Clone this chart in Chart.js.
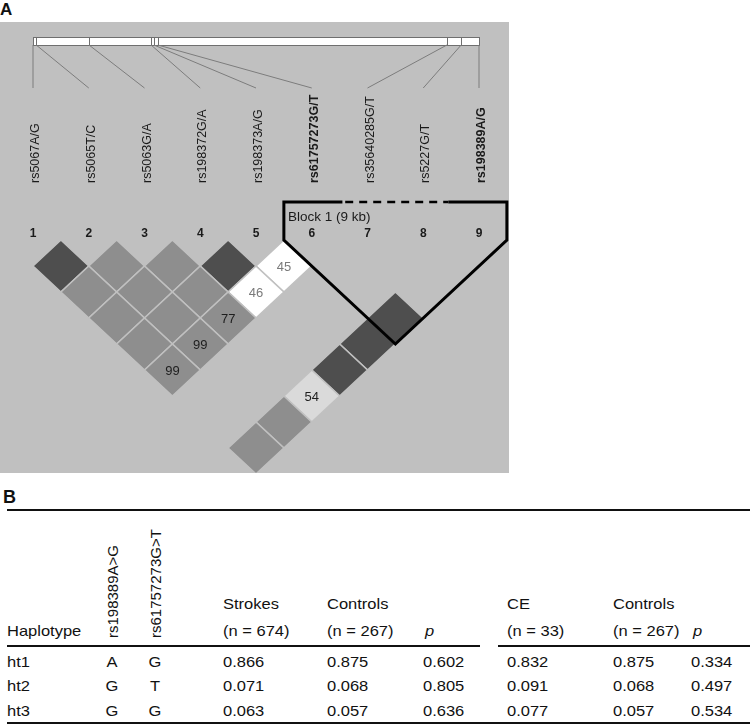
<!DOCTYPE html>
<html>
<head>
<meta charset="utf-8">
<script src="https://cdn.jsdelivr.net/npm/chart.js@4.4.0/dist/chart.umd.min.js"></script>
<style>
  html, body { margin: 0; padding: 0; background: #fff; }
  body { width: 750px; height: 725px; position: relative; overflow: hidden;
         font-family: "Liberation Sans", Arial, Helvetica, sans-serif; color: #111; }
  .tag { position: absolute; font-weight: bold; line-height: 1; }
  #ldWrap { position: absolute; left: 0; top: 22px; width: 509px; height: 451px; background: #c0c0c0; }
  .t { position: absolute; font-size: 15px; line-height: 15px; white-space: nowrap; transform-origin: 0 0; }
  .rule { position: absolute; background: #111; }
</style>
</head>
<body>
<div class="tag" style="left:0;top:1px;font-size:17px;">A</div>
<div id="ldWrap"><canvas id="ldChart" width="509" height="451"></canvas></div>
<div class="tag" style="left:3px;top:488px;font-size:18px;">B</div>
<div id="table"></div>

<script>
// --- Panel A data: markers ---
const snpNames = ['rs5067A/G', 'rs5065T/C', 'rs5063G/A', 'rs198372G/A', 'rs198373A/G',
                  'rs61757273G/T', 'rs35640285G/T', 'rs5227G/T', 'rs198389A/G'];
const snpBold = [false, false, false, false, false, true, false, false, true];
const snpKb = [0, 0.09, 1.57, 3.31, 3.39, 3.50, 11.6, 12.0, 12.5]; // approx. position along the gene

// --- Panel A data: pairwise LD cells (marker a, marker b, D' x100, evidence class) ---
const ldFirst  = [1, 2, 3, 4, 5,   1, 2, 3, 4,   1, 2, 3,   1, 2,   1,   6, 5, 4, 3, 2, 1];
const ldSecond = [2, 3, 4, 5, 6,   3, 4, 5, 6,   4, 5, 6,   5, 6,   6,   9, 9, 9, 9, 9, 9];
const ldDprime = [100, 100, 100, 100, 45,   100, 100, 100, 46,   100, 100, 77,   100, 99,   99,
                  100, 100, 100, 54, 100, 100];
const ldClass  = ['strong', 'uninf', 'uninf', 'strong', 'none',
                  'uninf', 'uninf', 'uninf', 'none',
                  'uninf', 'uninf', 'uninf',
                  'uninf', 'uninf',
                  'uninf',
                  'strong', 'strong', 'strong', 'moderate', 'uninf', 'uninf'];

// --- Panel A data: haplotype block ---
const blockMarkers = [6, 9];
const blockSkipped = [7, 8];
const blockLabel = 'Block 1 (9 kb)';

// --- Panel B data ---
const haplotypes = ['ht1', 'ht2', 'ht3'];
const alleleRs198389 = ['A', 'G', 'G'];
const alleleRs61757273 = ['G', 'T', 'G'];
const strokesFreq = [0.866, 0.071, 0.063];
const strokesCtrlFreq = [0.875, 0.068, 0.057];
const strokesP = [0.602, 0.805, 0.636];
const ceFreq = [0.832, 0.091, 0.077];
const ceCtrlFreq = [0.875, 0.068, 0.057];
const ceP = [0.334, 0.497, 0.534];

// --- styles ---
const classColor = { strong: '#4e4e4e', uninf: '#8e8e8e', none: '#ffffff', moderate: '#dadada' };
const bgGray = '#c0c0c0';
const FONT = '"Liberation Sans", Arial, sans-serif';

// --- LD plot geometry (pixels) ---
const W = 509, H = 451;
const PX_PER_MARKER = 55.75;
const FIRST_MARKER_PX = 33;
const ROW_PX = 26;
const ROW0_PX = 218;

const xMin = 1 - FIRST_MARKER_PX / PX_PER_MARKER;
const xMax = xMin + W / PX_PER_MARKER;
const yMin = -ROW0_PX / ROW_PX;
const yMax = yMin + H / ROW_PX;

const ldPlugin = {
    id: 'ldPlot',
    afterDatasetsDraw(chart) {
        const ctx = chart.ctx;
        const xs = chart.scales.x, ys = chart.scales.y;
        const X = v => xs.getPixelForValue(v);
        const Y = v => ys.getPixelForValue(v);
        const row0 = Y(0);
        const n = snpNames.length;

        // track bar with physical positions
        const kb0 = snpKb[0], kbN = snpKb[n - 1];
        const trackX = kb => X(1) + (kb - kb0) / (kbN - kb0) * (X(n) - X(1));
        const barTop = row0 - 203, barBot = row0 - 195;
        ctx.save();
        ctx.fillStyle = '#fff';
        ctx.fillRect(X(1), barTop, X(n) - X(1), barBot - barTop);
        ctx.strokeStyle = '#6f6f6f';
        ctx.lineWidth = 1;
        ctx.strokeRect(X(1) + 0.5, barTop + 0.5, X(n) - X(1), barBot - barTop);
        snpKb.forEach(kb => {
            const px = Math.round(trackX(kb)) + 0.5;
            ctx.beginPath(); ctx.moveTo(px, barTop); ctx.lineTo(px, barBot); ctx.stroke();
        });

        // connectors
        ctx.strokeStyle = '#7c7c7c';
        snpKb.forEach((kb, i) => {
            ctx.beginPath();
            ctx.moveTo(trackX(kb), barBot);
            ctx.lineTo(X(i + 1), row0 - 152);
            ctx.stroke();
        });

        // rotated marker names
        ctx.fillStyle = '#1a1a1a';
        ctx.textAlign = 'left';
        ctx.textBaseline = 'alphabetic';
        snpNames.forEach((name, i) => {
            ctx.save();
            ctx.translate(X(i + 1) + 6, row0 - 57);
            ctx.rotate(-Math.PI / 2);
            ctx.font = (snpBold[i] ? 'bold ' : '') + '12.5px ' + FONT;
            ctx.fillText(name, 0, 0);
            ctx.restore();
        });

        // marker numbers
        ctx.font = 'bold 12px ' + FONT;
        ctx.textAlign = 'center';
        ctx.textBaseline = 'middle';
        snpNames.forEach((_, i) => ctx.fillText(String(i + 1), X(i + 1), row0 - 6));

        // LD cells
        chart.data.datasets[0].data.forEach((p, k) => {
            ctx.beginPath();
            ctx.moveTo(X(p.x - 0.5), Y(p.y));
            ctx.lineTo(X(p.x), Y(p.y - 1));
            ctx.lineTo(X(p.x + 0.5), Y(p.y));
            ctx.lineTo(X(p.x), Y(p.y + 1));
            ctx.closePath();
            ctx.fillStyle = classColor[ldClass[k]];
            ctx.fill();
            ctx.strokeStyle = bgGray;
            ctx.lineWidth = 1.6;
            ctx.stroke();
        });
        ctx.font = '13px ' + FONT;
        chart.data.datasets[0].data.forEach((p, k) => {
            if (ldDprime[k] >= 100) return;
            ctx.fillStyle = ldClass[k] === 'none' ? '#7a7a7a' : '#1e1e1e';
            ctx.fillText(String(ldDprime[k]), X(p.x), Y(p.y) + 1);
        });

        // block outline
        const s = blockMarkers[0], e = blockMarkers[1];
        const top = row0 - 38;
        ctx.strokeStyle = '#000';
        ctx.lineWidth = 3;
        ctx.lineJoin = 'miter';
        ctx.beginPath();
        ctx.moveTo(X(blockSkipped[0] - 0.45), top);
        ctx.lineTo(X(s - 0.5), top);
        ctx.lineTo(X(s - 0.5), Y(0));
        ctx.lineTo(X((s + e) / 2), Y(e - s + 1));
        ctx.lineTo(X(e + 0.5), Y(0));
        ctx.lineTo(X(e + 0.5), top);
        ctx.lineTo(X(blockSkipped[blockSkipped.length - 1] + 0.45), top);
        ctx.stroke();
        ctx.setLineDash([8, 6]);
        ctx.lineWidth = 2.5;
        ctx.beginPath();
        ctx.moveTo(X(blockSkipped[0] - 0.4), top);
        ctx.lineTo(X(blockSkipped[blockSkipped.length - 1] + 0.45), top);
        ctx.stroke();
        ctx.setLineDash([]);

        ctx.fillStyle = '#1a1a1a';
        ctx.font = '13.5px ' + FONT;
        ctx.textAlign = 'left';
        ctx.textBaseline = 'alphabetic';
        ctx.fillText(blockLabel, X(s - 0.5) + 4, row0 - 19);
        ctx.restore();
    }
};

new Chart(document.getElementById('ldChart'), {
    type: 'scatter',
    data: {
        datasets: [{
            data: ldFirst.map((a, k) => ({ x: (a + ldSecond[k]) / 2, y: ldSecond[k] - a })),
            pointRadius: 0
        }]
    },
    options: {
        responsive: false,
        animation: false,
        devicePixelRatio: 1,
        events: [],
        layout: { padding: 0 },
        plugins: { legend: { display: false }, tooltip: { enabled: false } },
        scales: {
            x: { type: 'linear', display: false, min: xMin, max: xMax },
            y: { type: 'linear', display: false, reverse: true, min: yMin, max: yMax }
        }
    },
    plugins: [ldPlugin]
});

// --- Panel B: table ---
const table = document.getElementById('table');
const BASE_OFF = 12.7;
const STRETCH = 1.1;

function putText(str, x, baseline, opts = {}) {
    const el = document.createElement('span');
    el.className = 't';
    el.textContent = str;
    el.style.left = x + 'px';
    el.style.top = (baseline - BASE_OFF) + 'px';
    if (opts.italic) el.style.fontStyle = 'italic';
    el.style.transform = opts.center ? `scaleX(${STRETCH}) translateX(-50%)` : `scaleX(${STRETCH})`;
    table.appendChild(el);
}
function putRotated(str, baselineX, bottomY) {
    const el = document.createElement('span');
    el.className = 't';
    el.textContent = str;
    el.style.left = (baselineX - BASE_OFF) + 'px';
    el.style.top = bottomY + 'px';
    el.style.transform = 'rotate(-90deg)';
    table.appendChild(el);
}
function rule(x1, x2, y, h) {
    const el = document.createElement('div');
    el.className = 'rule';
    el.style.left = x1 + 'px';
    el.style.width = (x2 - x1) + 'px';
    el.style.top = (y - h / 2) + 'px';
    el.style.height = h + 'px';
    table.appendChild(el);
}

const colX = { hap: 7, a1: 112, a2: 155, str: 223, strC: 327, strP: 423, ce: 507, ceC: 613, ceP: 691 };
const head1 = 609, head2 = 636;
const rowBase = [667, 691, 716];

rule(7, 750, 510, 2);
rule(7, 480, 646, 2);
rule(498, 750, 646, 2);
rule(7, 750, 723, 2.5);

putText('Haplotype', colX.hap, head2);
putRotated('rs198389A>G', 118, 638);
putRotated('rs61757273G>T', 161, 638);
putText('Strokes', colX.str, head1);
putText('(n = 674)', colX.str, head2);
putText('Controls', colX.strC, head1);
putText('(n = 267)', colX.strC, head2);
putText('p', colX.strP + 2, head2, { italic: true });
putText('CE', colX.ce, head1);
putText('(n = 33)', colX.ce, head2);
putText('Controls', colX.ceC, head1);
putText('(n = 267)', colX.ceC, head2);
putText('p', colX.ceP + 2, head2, { italic: true });

haplotypes.forEach((h, r) => {
    const y = rowBase[r];
    putText(h, colX.hap, y);
    putText(alleleRs198389[r], colX.a1, y, { center: true });
    putText(alleleRs61757273[r], colX.a2, y, { center: true });
    putText(strokesFreq[r].toFixed(3), colX.str, y);
    putText(strokesCtrlFreq[r].toFixed(3), colX.strC, y);
    putText(strokesP[r].toFixed(3), colX.strP, y);
    putText(ceFreq[r].toFixed(3), colX.ce, y);
    putText(ceCtrlFreq[r].toFixed(3), colX.ceC, y);
    putText(ceP[r].toFixed(3), colX.ceP, y);
});
</script>
</body>
</html>
